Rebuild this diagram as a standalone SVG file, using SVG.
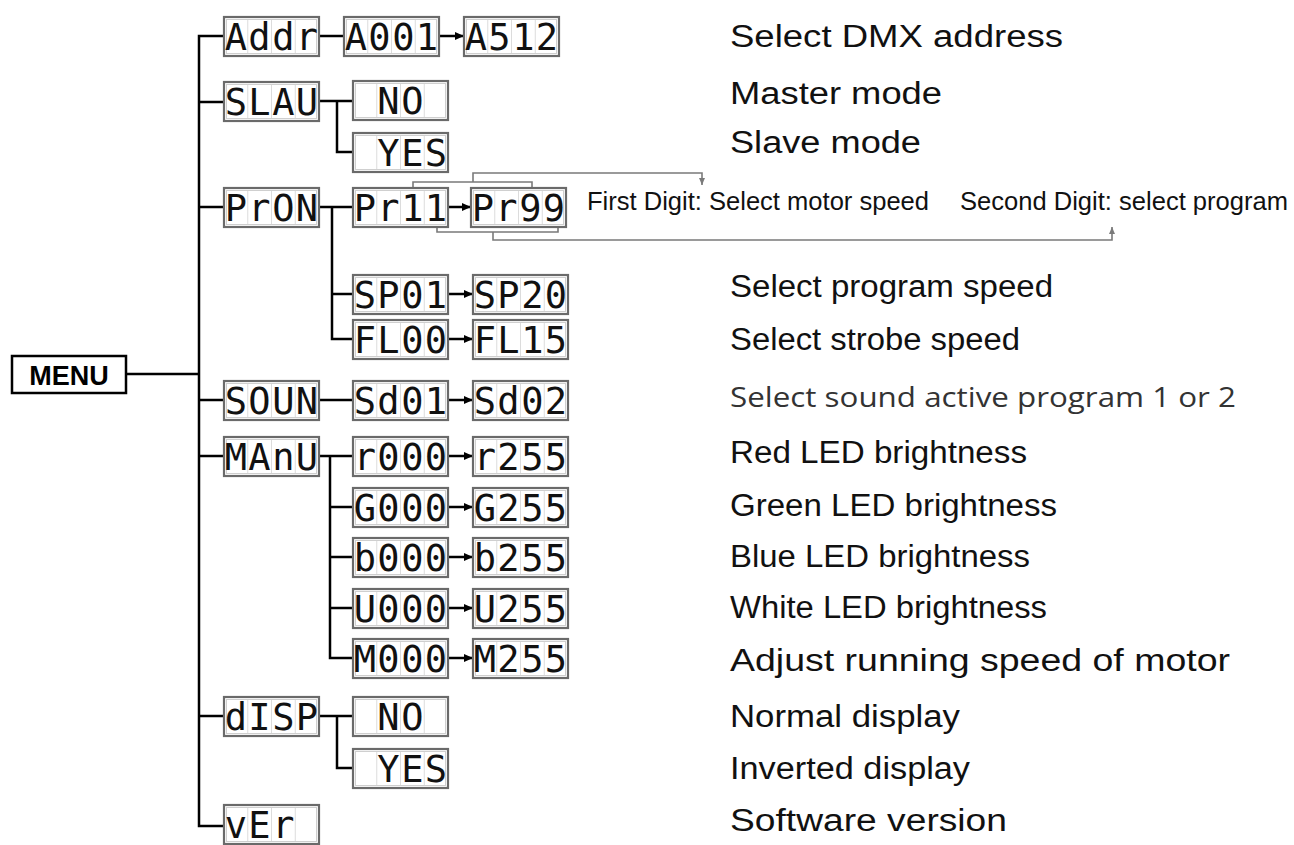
<svg xmlns="http://www.w3.org/2000/svg" xmlns:xlink="http://www.w3.org/1999/xlink" width="1294" height="845" viewBox="0 0 1294 845">
<style>
.lcd{font-family:"DejaVu Sans Mono","Liberation Mono",monospace;font-size:37px;fill:#111;text-anchor:middle}
.lbl{font-family:"Liberation Sans",Arial,sans-serif;font-size:31px;fill:#111}
.small{font-family:"Liberation Sans",Arial,sans-serif;font-size:25px;fill:#111}
.snd{font-family:"Open Sans","Noto Sans",sans-serif;font-size:28px;fill:#333}
.conn{fill:none;stroke:#000;stroke-width:2.5}
.arr{fill:none;stroke:#000;stroke-width:2.5;marker-end:url(#ah)}
.brk{fill:none;stroke:#7a7a7a;stroke-width:1.6}
.brka{fill:none;stroke:#7a7a7a;stroke-width:1.6;marker-end:url(#gh)}
</style>
<defs>
<marker id="ah" markerUnits="userSpaceOnUse" markerWidth="9" markerHeight="8" refX="9" refY="4" orient="auto"><path d="M0,0 L9,4 L0,8 z" fill="#000"/></marker>
<marker id="gh" markerUnits="userSpaceOnUse" markerWidth="7" markerHeight="6" refX="7" refY="3" orient="auto"><path d="M0,0 L7,3 L0,6 z" fill="#7a7a7a"/></marker>
<g id="box">
<rect x="0" y="0" width="95" height="39" fill="#fff" stroke="#6a6a6a" stroke-width="2.2"/>
<rect x="2.5" y="2.5" width="90" height="34" fill="none" stroke="#cfcfcf" stroke-width="1"/>
<path d="M23.75,3 V36 M47.5,3 V36 M71.25,3 V36" stroke="#dcdcdc" stroke-width="1"/>
</g>
</defs>
<rect width="1294" height="845" fill="#fff"/>

<g id="connectors">
<path class="conn" d="M126,374 H199"/>
<path class="conn" d="M224,36 H199 V826 H224"/>
<path class="conn" d="M199,102 H224 M199,207 H224 M199,400 H224 M199,456 H224 M199,716 H224"/>
<path class="conn" d="M319,36 H344"/>
<path class="arr" d="M439,36 H464"/>
<path class="conn" d="M319,101 H353 M337,101 V152 H353"/>
<path class="conn" d="M319,207 H353 M332,207 V339 H353 M332,294 H353"/>
<path class="arr" d="M448,207 H471"/>
<path class="arr" d="M448,294 H473"/>
<path class="arr" d="M448,339 H473"/>
<path class="conn" d="M319,400 H353"/>
<path class="arr" d="M448,400 H473"/>
<path class="conn" d="M319,456 H353 M330,456 V658 H353 M330,507 H353 M330,557 H353 M330,608 H353"/>
<path class="arr" d="M448,456 H473"/>
<path class="arr" d="M448,507 H473"/>
<path class="arr" d="M448,557 H473"/>
<path class="arr" d="M448,608 H473"/>
<path class="arr" d="M448,658 H473"/>
<path class="conn" d="M319,716 H353 M337,716 V768 H353"/>
<path class="brk" d="M413,188 V182 H532 V188"/>
<path class="brka" d="M473,182 V173 H702 V185"/>
<path class="brk" d="M437,227 V232 H558 V227"/>
<path class="brka" d="M493,232 V240 H1112 V227"/>
</g>

<g id="menu">
<rect x="12" y="356" width="114" height="37" fill="#fff" stroke="#000" stroke-width="2.5"/>
<text x="69" y="385" text-anchor="middle" font-family="Liberation Sans, Arial, sans-serif" font-weight="bold" font-size="27" fill="#000">MENU</text>
</g>

<g id="addr"><use xlink:href="#box" x="224" y="17"/><text class="lcd" x="236 259.5 283.5 307" y="50">Addr</text></g>
<g id="a001"><use xlink:href="#box" x="344" y="17"/><text class="lcd" x="356 379.5 403.5 427" y="50">A001</text></g>
<g id="a512"><use xlink:href="#box" x="464" y="17"/><text class="lcd" x="476 499.5 523.5 547" y="50">A512</text></g>

<g id="slau"><use xlink:href="#box" x="224" y="82"/><text class="lcd" x="236 259.5 283.5 307" y="115">SLAU</text></g>
<g id="slau-no"><use xlink:href="#box" x="353" y="81"/><text class="lcd" x="388.5 412.5" y="114">NO</text></g>
<g id="slau-yes"><use xlink:href="#box" x="353" y="133"/><text class="lcd" x="388.5 412.5 436" y="166">YES</text></g>

<g id="pron"><use xlink:href="#box" x="224" y="188"/><text class="lcd" x="236 259.5 283.5 307" y="221">PrON</text></g>
<g id="pr11"><use xlink:href="#box" x="353" y="188"/><text class="lcd" x="365 388.5 412.5 436" y="221">Pr11</text></g>
<g id="pr99"><use xlink:href="#box" x="471" y="188"/><text class="lcd" x="483 506.5 530.5 554" y="221">Pr99</text></g>
<g id="sp01"><use xlink:href="#box" x="353" y="275"/><text class="lcd" x="365 388.5 412.5 436" y="308">SP01</text></g>
<g id="sp20"><use xlink:href="#box" x="473" y="275"/><text class="lcd" x="485 508.5 532.5 556" y="308">SP20</text></g>
<g id="fl00"><use xlink:href="#box" x="353" y="320"/><text class="lcd" x="365 388.5 412.5 436" y="353">FL00</text></g>
<g id="fl15"><use xlink:href="#box" x="473" y="320"/><text class="lcd" x="485 508.5 532.5 556" y="353">FL15</text></g>

<g id="soun"><use xlink:href="#box" x="224" y="381"/><text class="lcd" x="236 259.5 283.5 307" y="414">SOUN</text></g>
<g id="sd01"><use xlink:href="#box" x="353" y="381"/><text class="lcd" x="365 388.5 412.5 436" y="414">Sd01</text></g>
<g id="sd02"><use xlink:href="#box" x="473" y="381"/><text class="lcd" x="485 508.5 532.5 556" y="414">Sd02</text></g>

<g id="manu"><use xlink:href="#box" x="224" y="437"/><text class="lcd" x="236 259.5 283.5 307" y="470">MAnU</text></g>
<g id="r000"><use xlink:href="#box" x="353" y="437"/><text class="lcd" x="365 388.5 412.5 436" y="470">r000</text></g>
<g id="r255"><use xlink:href="#box" x="473" y="437"/><text class="lcd" x="485 508.5 532.5 556" y="470">r255</text></g>
<g id="g000"><use xlink:href="#box" x="353" y="488"/><text class="lcd" x="365 388.5 412.5 436" y="521">G000</text></g>
<g id="g255"><use xlink:href="#box" x="473" y="488"/><text class="lcd" x="485 508.5 532.5 556" y="521">G255</text></g>
<g id="b000"><use xlink:href="#box" x="353" y="538"/><text class="lcd" x="365 388.5 412.5 436" y="571">b000</text></g>
<g id="b255"><use xlink:href="#box" x="473" y="538"/><text class="lcd" x="485 508.5 532.5 556" y="571">b255</text></g>
<g id="u000"><use xlink:href="#box" x="353" y="589"/><text class="lcd" x="365 388.5 412.5 436" y="622">U000</text></g>
<g id="u255"><use xlink:href="#box" x="473" y="589"/><text class="lcd" x="485 508.5 532.5 556" y="622">U255</text></g>
<g id="m000"><use xlink:href="#box" x="353" y="639"/><text class="lcd" x="365 388.5 412.5 436" y="672">M000</text></g>
<g id="m255"><use xlink:href="#box" x="473" y="639"/><text class="lcd" x="485 508.5 532.5 556" y="672">M255</text></g>

<g id="disp"><use xlink:href="#box" x="224" y="697"/><text class="lcd" x="236 259.5 283.5 307" y="730">dISP</text></g>
<g id="disp-no"><use xlink:href="#box" x="353" y="697"/><text class="lcd" x="388.5 412.5" y="730">NO</text></g>
<g id="disp-yes"><use xlink:href="#box" x="353" y="749"/><text class="lcd" x="388.5 412.5 436" y="782">YES</text></g>

<g id="ver"><use xlink:href="#box" x="224" y="805"/><text class="lcd" x="236 259.5 283.5" y="838">vEr</text></g>

<g id="labels">
<text class="lbl" x="730" y="47" font-size="32" textLength="333" lengthAdjust="spacingAndGlyphs">Select DMX address</text>
<text class="lbl" x="730" y="104" textLength="212" lengthAdjust="spacingAndGlyphs">Master mode</text>
<text class="lbl" x="730" y="153" textLength="191" lengthAdjust="spacingAndGlyphs">Slave mode</text>
<text class="small" x="587" y="210" textLength="342" lengthAdjust="spacingAndGlyphs">First Digit: Select motor speed</text>
<text class="small" x="960" y="210" textLength="328" lengthAdjust="spacingAndGlyphs">Second Digit: select program</text>
<text class="lbl" x="730" y="297" textLength="323" lengthAdjust="spacingAndGlyphs">Select program speed</text>
<text class="lbl" x="730" y="350" textLength="290" lengthAdjust="spacingAndGlyphs">Select strobe speed</text>
<text class="snd" x="730" y="407" textLength="506" lengthAdjust="spacingAndGlyphs">Select sound active program 1 or 2</text>
<text class="lbl" x="730" y="463" textLength="297" lengthAdjust="spacingAndGlyphs">Red LED brightness</text>
<text class="lbl" x="730" y="516" textLength="327" lengthAdjust="spacingAndGlyphs">Green LED brightness</text>
<text class="lbl" x="730" y="567" textLength="300" lengthAdjust="spacingAndGlyphs">Blue LED brightness</text>
<text class="lbl" x="730" y="618" textLength="317" lengthAdjust="spacingAndGlyphs">White LED brightness</text>
<text class="lbl" x="730" y="671" textLength="500" lengthAdjust="spacingAndGlyphs">Adjust running speed of motor</text>
<text class="lbl" x="730" y="727" textLength="230" lengthAdjust="spacingAndGlyphs">Normal display</text>
<text class="lbl" x="730" y="779" textLength="240" lengthAdjust="spacingAndGlyphs">Inverted display</text>
<text class="lbl" x="730" y="831" textLength="277" lengthAdjust="spacingAndGlyphs">Software version</text>
</g>
</svg>
